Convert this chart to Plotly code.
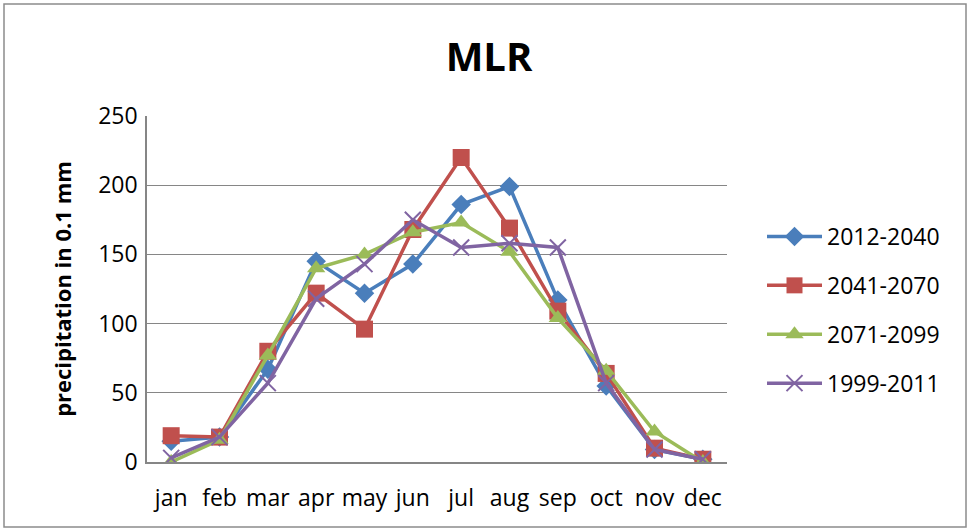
import plotly.graph_objects as go

months = ["jan", "feb", "mar", "apr", "may", "jun", "jul", "aug", "sep", "oct", "nov", "dec"]

p2012_2040 = [15, 18, 67, 145, 122, 143, 186, 199, 117, 55, 9, 2]
p2041_2070 = [19, 18, 80, 122, 96, 168, 220, 169, 109, 64, 10, 2]
p2071_2099 = [0, 16, 77, 140, 150, 166, 173, 152, 104, 66, 22, 0]
p1999_2011 = [3, 18, 57, 118, 143, 175, 155, 158, 155, 57, 9, 2]

y_ticks = [0, 50, 100, 150, 200, 250]

W, H = 970, 528
L, R, T, B = 147, 727, 116, 462

series = [
    ("2012-2040", p2012_2040, "#4A7EBB", dict(symbol="diamond", size=15)),
    ("2041-2070", p2041_2070, "#C0504D", dict(symbol="square", size=17)),
    ("2071-2099", p2071_2099, "#9BBB59", dict(symbol="triangle-up", size=16)),
    ("1999-2011", p1999_2011, "#8064A2", dict(symbol="x-thin", size=16)),
]

fig = go.Figure()
for i, (name, vals, color, mk) in enumerate(series):
    marker = dict(color=color, **mk)
    if mk["symbol"] == "x-thin":
        marker["line"] = dict(width=2, color=color)
    fig.add_trace(go.Scatter(
        x=months, y=vals, name=name, mode="lines+markers",
        line=dict(color=color, width=3.5),
        marker=marker,
        legendgroup=f"g{i}",
    ))

fig.update_layout(
    width=W, height=H,
    margin=dict(l=L, r=W - R, t=T, b=H - B, autoexpand=False),
    paper_bgcolor="white", plot_bgcolor="white",
    font=dict(family="Open Sans", size=23, color="#000000"),
    title=dict(text="<b>MLR</b>", x=489 / W, xanchor="center",
               y=1 - 57 / H, yanchor="middle",
               font=dict(family="Open Sans", size=40, color="#000000")),
    legend=dict(x=(762 - L) / (R - L), xanchor="left",
                y=(B - 215) / (B - T), yanchor="top",
                bgcolor="rgba(0,0,0,0)", font=dict(size=23),
                itemwidth=55, tracegroupgap=16),
    showlegend=True,
    shapes=[dict(type="rect", xref="paper", yref="paper",
                 x0=(4 - L) / (R - L), x1=(966 - L) / (R - L),
                 y0=(B - 527) / (B - T), y1=(B - 4) / (B - T),
                 line=dict(color="#8C8C8C", width=1.5), fillcolor="rgba(0,0,0,0)",
                 layer="below")],
)

fig.update_xaxes(
    type="category", range=[-0.5, 11.5],
    showline=True, linecolor="#868686", linewidth=1.5,
    showgrid=False, ticks="outside", ticklen=15, tickcolor="rgba(0,0,0,0)",
    tickfont=dict(size=23),
)
fig.update_yaxes(
    range=[0, 250], tickvals=y_ticks,
    showline=True, linecolor="#868686", linewidth=1.5,
    showgrid=True, gridcolor="#868686", gridwidth=1.2,
    zeroline=False,
    ticks="outside", ticklen=3, tickcolor="rgba(0,0,0,0)",
    tickfont=dict(size=23),
    title=dict(text="<b>precipitation in 0.1 mm</b>", standoff=20,
               font=dict(size=22)),
)

fig.write_html("out.html")
